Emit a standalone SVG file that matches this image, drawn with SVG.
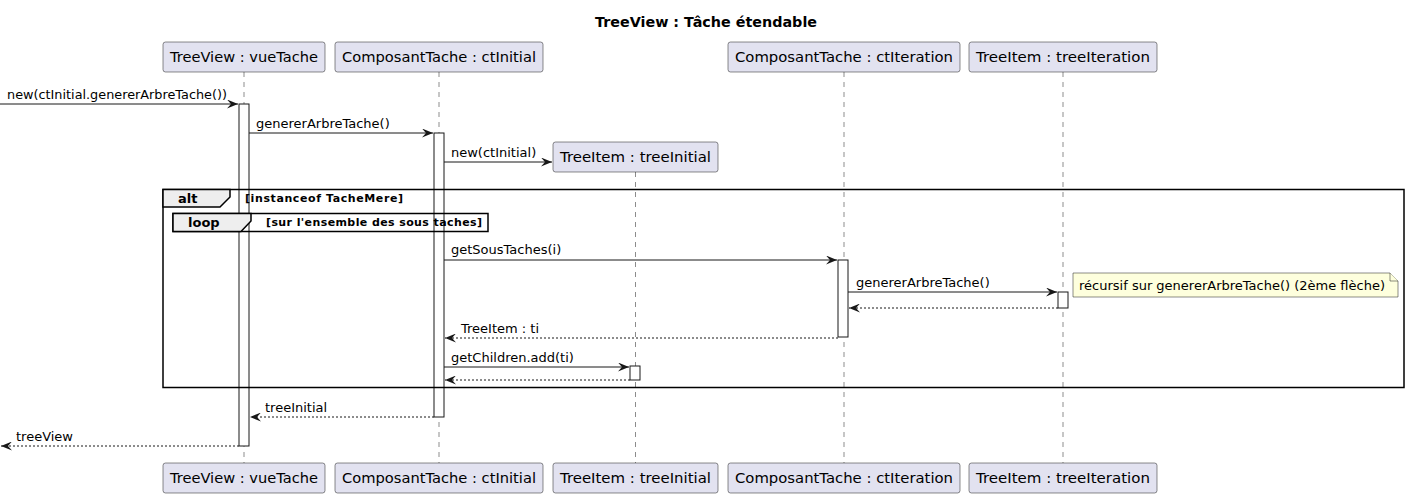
<svg xmlns="http://www.w3.org/2000/svg" width="1408" height="498" viewBox="0 0 1408 498">
<style>
text{font-family:"DejaVu Sans","Noto Sans",sans-serif;fill:#000}
.title{font-size:14px;font-weight:bold}
.p{font-size:14px}
.m{font-size:13px}
.fl{font-size:13px;font-weight:bold}
.fc{font-size:11px;font-weight:bold}
.pbox{fill:#E2E2F0;stroke:#181818;stroke-width:0.5}
.life{stroke:#181818;stroke-width:0.5;stroke-dasharray:5,5;fill:none}
.act{fill:#FFFFFF;stroke:#181818;stroke-width:1}
.msg{stroke:#181818;stroke-width:1;fill:none}
.ret{stroke:#181818;stroke-width:1;stroke-dasharray:2,2;fill:none}
.frame{fill:none;stroke:#000;stroke-width:1.5}
.tab{fill:#EEEEEE;stroke:#000;stroke-width:1.5}
.note{fill:#FEFFDD;stroke:#181818;stroke-width:0.5}
</style>
<defs>
<marker id="ah" viewBox="0 0 11 9" refX="11" refY="4.5" markerWidth="11" markerHeight="9" markerUnits="userSpaceOnUse" orient="auto">
<polygon points="0,0 11,4.5 0,9 4,4.5" fill="#181818"/>
</marker>
</defs>
<text class="title" x="706" y="27" text-anchor="middle" textLength="222" lengthAdjust="spacingAndGlyphs">TreeView : Tâche étendable</text>

<g id="lifelines">
<line class="life" x1="244" y1="72" x2="244" y2="463"/>
<line class="life" x1="439" y1="72" x2="439" y2="463"/>
<line class="life" x1="635.5" y1="172" x2="635.5" y2="463"/>
<line class="life" x1="844" y1="72" x2="844" y2="463"/>
<line class="life" x1="1063" y1="72" x2="1063" y2="463"/>
</g>

<g id="p_vueTache">
<rect class="pbox" x="163" y="42" width="162" height="30" rx="2.5"/>
<text class="p" x="244" y="62" text-anchor="middle" textLength="148" lengthAdjust="spacingAndGlyphs">TreeView : vueTache</text>
<rect class="pbox" x="163" y="463" width="162" height="30" rx="2.5"/>
<text class="p" x="244" y="483" text-anchor="middle" textLength="148" lengthAdjust="spacingAndGlyphs">TreeView : vueTache</text>
</g>
<g id="p_ctInitial">
<rect class="pbox" x="335" y="42" width="208" height="30" rx="2.5"/>
<text class="p" x="439" y="62" text-anchor="middle" textLength="194" lengthAdjust="spacingAndGlyphs">ComposantTache : ctInitial</text>
<rect class="pbox" x="335" y="463" width="208" height="30" rx="2.5"/>
<text class="p" x="439" y="483" text-anchor="middle" textLength="194" lengthAdjust="spacingAndGlyphs">ComposantTache : ctInitial</text>
</g>
<g id="p_treeInitial">
<rect class="pbox" x="553" y="142" width="165" height="30" rx="2.5"/>
<text class="p" x="635.5" y="162" text-anchor="middle" textLength="151" lengthAdjust="spacingAndGlyphs">TreeItem : treeInitial</text>
<rect class="pbox" x="553" y="463" width="165" height="30" rx="2.5"/>
<text class="p" x="635.5" y="483" text-anchor="middle" textLength="151" lengthAdjust="spacingAndGlyphs">TreeItem : treeInitial</text>
</g>
<g id="p_ctIteration">
<rect class="pbox" x="728" y="42" width="232" height="30" rx="2.5"/>
<text class="p" x="844" y="62" text-anchor="middle" textLength="218" lengthAdjust="spacingAndGlyphs">ComposantTache : ctIteration</text>
<rect class="pbox" x="728" y="463" width="232" height="30" rx="2.5"/>
<text class="p" x="844" y="483" text-anchor="middle" textLength="218" lengthAdjust="spacingAndGlyphs">ComposantTache : ctIteration</text>
</g>
<g id="p_treeIteration">
<rect class="pbox" x="969" y="42" width="188" height="30" rx="2.5"/>
<text class="p" x="1063" y="62" text-anchor="middle" textLength="174" lengthAdjust="spacingAndGlyphs">TreeItem : treeIteration</text>
<rect class="pbox" x="969" y="463" width="188" height="30" rx="2.5"/>
<text class="p" x="1063" y="483" text-anchor="middle" textLength="174" lengthAdjust="spacingAndGlyphs">TreeItem : treeIteration</text>
</g>

<g id="activations">
<rect class="act" x="239" y="104" width="10" height="342"/>
<rect class="act" x="434" y="133" width="10" height="284"/>
<rect class="act" x="838" y="260" width="10" height="77"/>
<rect class="act" x="1058" y="292" width="10" height="16"/>
<rect class="act" x="630" y="366" width="10" height="14"/>
</g>

<g id="f_alt">
<rect class="frame" x="163" y="189.5" width="1241" height="198"/>
<path class="tab" d="M163,189.5 L230,189.5 L230,197 L220,207 L163,207 Z"/>
<text class="fl" x="178" y="203">alt</text>
<text class="fc" x="245" y="202" textLength="158" lengthAdjust="spacing">[instanceof TacheMere]</text>
</g>
<g id="f_loop">
<rect class="frame" x="173" y="213.5" width="315" height="18"/>
<path class="tab" d="M173,213.5 L251,213.5 L251,221 L241,231.5 L173,231.5 Z"/>
<text class="fl" x="188" y="227">loop</text>
<text class="fc" x="266" y="226" textLength="216" lengthAdjust="spacing">[sur l'ensemble des sous taches]</text>
</g>

<g id="connectors">
<line class="msg" x1="0" y1="104" x2="238" y2="104" marker-end="url(#ah)"/>
<text class="m" x="7" y="99" textLength="220" lengthAdjust="spacingAndGlyphs">new(ctInitial.genererArbreTache())</text>
<line class="msg" x1="249" y1="133" x2="433" y2="133" marker-end="url(#ah)"/>
<text class="m" x="256" y="128">genererArbreTache()</text>
<line class="msg" x1="444" y1="162" x2="552" y2="162" marker-end="url(#ah)"/>
<text class="m" x="451" y="157">new(ctInitial)</text>
<line class="msg" x1="444" y1="260" x2="837" y2="260" marker-end="url(#ah)"/>
<text class="m" x="451" y="254">getSousTaches(i)</text>
<line class="msg" x1="848" y1="292" x2="1057" y2="292" marker-end="url(#ah)"/>
<text class="m" x="856" y="287">genererArbreTache()</text>
<line class="ret" x1="1058" y1="308" x2="849" y2="308" marker-end="url(#ah)"/>
<line class="ret" x1="838" y1="338" x2="445" y2="338" marker-end="url(#ah)"/>
<text class="m" x="461" y="333">TreeItem : ti</text>
<line class="msg" x1="444" y1="367" x2="629" y2="367" marker-end="url(#ah)"/>
<text class="m" x="451" y="362">getChildren.add(ti)</text>
<line class="ret" x1="630" y1="380" x2="445" y2="380" marker-end="url(#ah)"/>
<line class="ret" x1="434" y1="417" x2="250" y2="417" marker-end="url(#ah)"/>
<text class="m" x="265" y="412">treeInitial</text>
<line class="ret" x1="239" y1="446" x2="1" y2="446" marker-end="url(#ah)"/>
<text class="m" x="16" y="441">treeView</text>
</g>

<g id="note">
<path class="note" d="M1073,273 L1390,273 L1398,281 L1398,297 L1073,297 Z"/>
<path class="note" d="M1390,273 L1390,281 L1398,281" fill="none"/>
<text class="m" x="1079" y="290">récursif sur genererArbreTache() (2ème flèche)</text>
</g>
</svg>
